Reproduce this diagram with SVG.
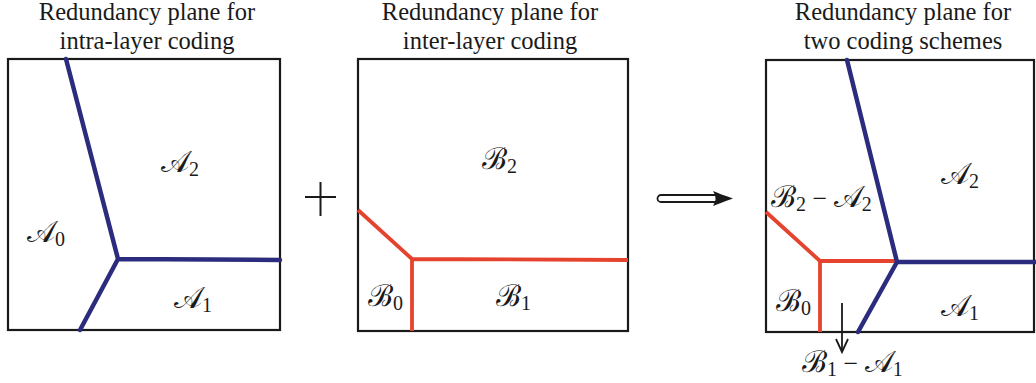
<svg xmlns="http://www.w3.org/2000/svg" width="1036" height="383" viewBox="0 0 1036 383">
<style>
.title{font-family:"Liberation Serif","Times New Roman",serif;font-size:24.5px;fill:#1a1a1a;text-anchor:middle}
.box{fill:none;stroke:#1a1a1a;stroke-width:2.2}
.blue{fill:none;stroke:#2c2c7e;stroke-width:4.5;stroke-linejoin:round;stroke-linecap:round}
.red{fill:none;stroke:#e5432e;stroke-width:3.8;stroke-linejoin:round;stroke-linecap:butt}
.m{font-family:"DejaVu Serif","Liberation Serif",serif;font-style:normal;font-size:30px;fill:#1a1a1a}
.s{font-family:"Liberation Serif",serif;font-size:20px}
.op{font-family:"Liberation Serif",serif;font-size:26px}
</style>
<rect width="1036" height="383" fill="#fff"/>
<g id="plane-intra">
<text class="title" x="147" y="20">Redundancy plane for</text>
<text class="title" x="147" y="48.5">intra-layer coding</text>
<rect class="box" x="8" y="59" width="272" height="271"/>
<path class="blue" d="M66 59 L118 259 L280 260 M118 259 L80 330"/>
<text class="m" x="161" y="172">𝒜<tspan class="s" dy="4">2</tspan></text>
<text class="m" x="27" y="242">𝒜<tspan class="s" dy="4">0</tspan></text>
<text class="m" x="174" y="308">𝒜<tspan class="s" dy="4">1</tspan></text>
</g>
<g id="plane-inter">
<text class="title" x="490" y="20">Redundancy plane for</text>
<text class="title" x="490" y="48.5">inter-layer coding</text>
<rect class="box" x="358" y="59" width="270" height="272"/>
<path class="red" d="M358 210 L412 259 L628 260 M412 259 L412 331"/>
<text class="m" x="482" y="169">ℬ<tspan class="s" dy="4">2</tspan></text>
<text class="m" x="368" y="306">ℬ<tspan class="s" dy="4">0</tspan></text>
<text class="m" x="496" y="306">ℬ<tspan class="s" dy="4">1</tspan></text>
</g>
<g id="plane-combined">
<text class="title" x="903" y="20">Redundancy plane for</text>
<text class="title" x="903" y="48.5">two coding schemes</text>
<rect class="box" x="766" y="60" width="268" height="272"/>
<path class="red" d="M766 212 L820 261 L897 261 M820 261 L820 332"/>
<path class="blue" d="M847 60 L897 262 L1036 262 M897 262 L858 332"/>
<text class="m" x="941" y="184">𝒜<tspan class="s" dy="4">2</tspan></text>
<text class="m" x="771" y="207">ℬ<tspan class="s" dy="4">2</tspan><tspan dy="-4" class="op"> − </tspan>𝒜<tspan class="s" dy="4">2</tspan></text>
<text class="m" x="776" y="311">ℬ<tspan class="s" dy="4">0</tspan></text>
<text class="m" x="941" y="316">𝒜<tspan class="s" dy="4">1</tspan></text>
<text class="m" x="802" y="372">ℬ<tspan class="s" dy="4">1</tspan><tspan dy="-4" class="op"> − </tspan>𝒜<tspan class="s" dy="4">1</tspan></text>
</g>
<g id="connectors">
<path d="M305 197 H336 M320.5 182 V216" stroke="#1a1a1a" stroke-width="2" fill="none"/>
<path d="M717 195 H661 A3.5 3.5 0 0 0 661 202 H717" stroke="#1a1a1a" stroke-width="1.8" fill="#fff"/>
<path d="M733 198.5 Q720 194 713 191 Q718 198.5 713 206 Q720 203 733 198.5 Z" fill="#1a1a1a"/>
<path d="M842 303 V351" stroke="#1a1a1a" stroke-width="1.8" fill="none"/>
<path d="M836 339 L842 352 L848 339" stroke="#1a1a1a" stroke-width="1.8" fill="none"/>
</g>
</svg>
